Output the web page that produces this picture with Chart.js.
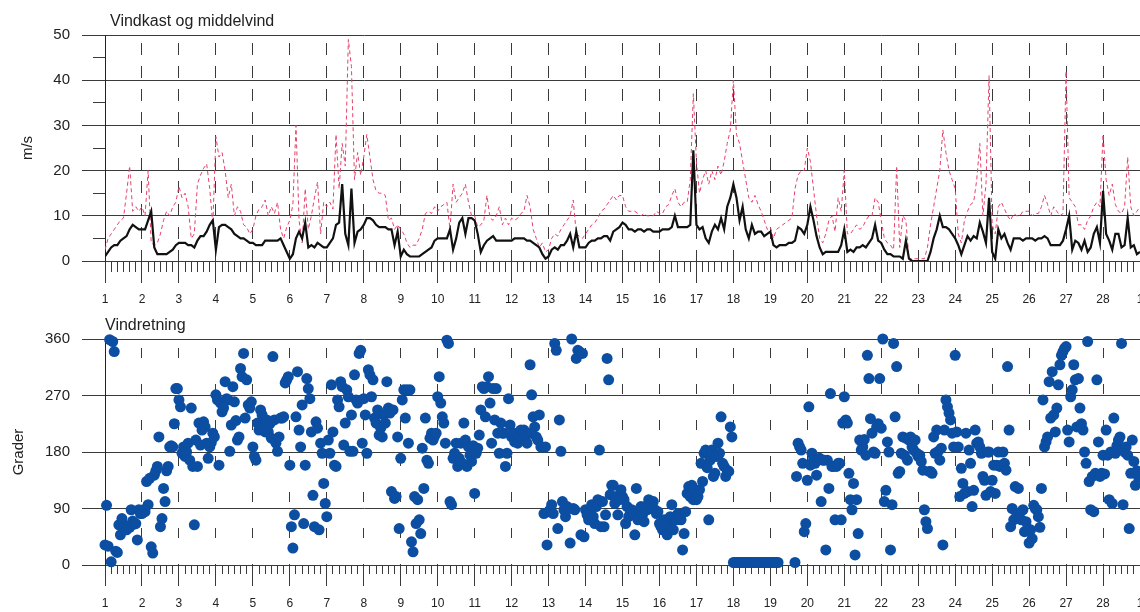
<!DOCTYPE html>
<html>
<head>
<meta charset="utf-8">
<script src="https://cdn.jsdelivr.net/npm/chart.js@4.4.1/dist/chart.umd.min.js"></script>
<style>
  html, body { margin: 0; padding: 0; background: #fff; overflow: hidden; }
  #wrap { position: relative; width: 1140px; height: 612px; overflow: hidden; }
  canvas { position: absolute; left: 0; }
  #cWind { top: 0; }
  #cDir { top: 310px; }
  .ttl { position: absolute; font-family: "Liberation Sans", Arial, sans-serif; font-size: 16px; line-height: 18px; color: #222; white-space: nowrap; }
</style>
</head>
<body>
<div id="wrap">
  <canvas id="cWind" width="1180" height="310"></canvas>
  <canvas id="cDir" width="1180" height="302"></canvas>
  <div class="ttl" style="left:110px; top:12px;">Vindkast og middelvind</div>
  <div class="ttl" style="left:105px; top:316px;">Vindretning</div>
</div>
<script>
// mean wind, m/s, one value every 2 hours (12 per day), day 1 .. 28 + 00 on the 1st
var meanWind = [
  1, 2, 3, 3.5, 3.5, 4.5, 5, 5.5, 7, 8, 7.5, 7,
  7, 7, 9, 11, 3, 1.5, 1.5, 1.5, 1.5, 2, 2.5, 3.5,
  4, 4, 4, 3.5, 3.5, 3, 4.5, 5.5, 5.5, 6.5, 8, 9,
  2.5, 7.5, 8, 8, 7.5, 7, 6, 5.5, 5, 5, 4.5, 4,
  4, 3.5, 3.5, 3.5, 4.5, 4.5, 4.5, 4.5, 4.5, 5, 3.5, 2,
  0.5, 1.5, 5, 6.5, 5, 8.5, 3, 3.5, 3, 4, 3.5, 3,
  3, 4, 5, 8, 8.5, 17, 6, 3.5, 16, 4, 6.5, 7,
  8, 9.5, 9.5, 9, 8, 7.5, 7.5, 7.5, 7, 7, 3.5, 6.5,
  1, 2.5, 1.5, 1, 1, 1, 1, 1.5, 2, 2.5, 3, 4.5,
  5, 5, 5, 5, 7, 2.5, 5, 8.5, 9.5, 6, 9.5, 9.5,
  9, 6, 2, 3.5, 4.5, 5, 5.5, 4.5, 4.5, 4.5, 4.5, 4.5,
  4.5, 5, 5, 5, 5, 4.5, 4.5, 4, 3.5, 3, 1.5, 0.5,
  1, 2.5, 3, 2.5, 3.5, 3.5, 4.5, 6, 3, 6.5, 3, 3,
  3, 4, 4.5, 4.5, 5, 5, 5.5, 5.5, 4.5, 6.5, 7, 7.5,
  8.5, 8, 7, 7, 6.5, 7, 7, 6.5, 7, 7, 6.5, 6.5,
  6.5, 7, 7, 7, 7.5, 10, 7.5, 7.5, 7.5, 7.5, 8, 24.5,
  8, 7, 7.5, 5, 4, 6.5, 8, 7, 9.5, 7, 12, 14,
  17, 14, 9, 12, 7, 5, 8, 6, 6.5, 6.5, 5.5, 6,
  6.5, 3.5, 3, 3.5, 3.5, 3.5, 4, 4, 4.5, 7.5, 7, 6,
  8, 12, 9, 5.5, 3, 1.5, 2, 2, 2, 2, 2, 3.5,
  7, 2, 2.5, 2, 3, 3, 3.5, 3, 4, 5, 8, 4.5,
  4, 2.5, 1.5, 1.5, 1, 1, 1, 0.5, 4.5, 0.5, 0, 0,
  0, 0, 0, 0, 2, 5, 7, 10, 7.5, 7.5, 7, 6,
  5, 3.5, 1.5, 3.5, 5.5, 4.5, 5.5, 5, 8.5, 6.5, 4, 14,
  2, 0.5, 7, 5, 6, 4, 2.5, 5, 5, 5, 4.5, 5,
  5, 5, 4.5, 5, 5, 5.5, 5, 3.5, 3.5, 3.5, 3.5, 4.5,
  7, 10, 2.5, 4.5, 4, 2.5, 4.5, 2, 3, 6, 7.5, 4,
  15.5, 6, 4.5, 2.5, 6, 6, 3, 3.5, 9.5, 3, 3.5, 1.5,
  2
];

// gusts, m/s, same 2-hour steps
var gust = [
  2.5, 5, 6, 7, 8, 9, 9.5, 15, 21, 11, 12, 11,
  12, 10, 20, 4, 3.5, 4, 6, 9, 11, 10, 12, 13,
  16.5, 14, 15, 12, 5, 6, 17, 19, 20.5, 21.5, 16, 8,
  27.5, 23, 24, 20, 14, 17, 10, 12, 11, 8, 7.5, 6,
  7, 10, 11.5, 12, 13.5, 10, 12, 10.5, 13, 7, 5, 7.5,
  9, 12.5, 30, 9, 4, 16, 7, 10, 14, 17.5, 6, 13,
  12, 13, 11.5, 28, 16, 26, 21, 49, 43, 18, 24, 19,
  23, 28, 23, 18, 15.5, 15, 15, 14.5, 9, 9.5, 7, 8,
  7, 6, 4, 3, 3.5, 3.5, 5, 7, 10.5, 11, 10.5, 12,
  11, 12, 12.5, 13, 7, 17, 13, 14, 15, 17, 13, 10,
  10, 7.5, 8, 9, 14.5, 9.5, 9, 10, 12, 8, 9.5, 8,
  9.5, 9, 9.5, 10.5, 11, 14.5, 12, 7, 5, 3, 4, 2,
  2.5, 5, 6, 5.5, 7, 8, 9, 10, 13.5, 6, 5.5, 5,
  6, 7, 8, 8.5, 9.5, 11, 11.5, 12.5, 13.5, 14.5, 13.5, 14.5,
  14.5, 12, 11, 11, 11, 10.5, 10, 10.5, 10, 10, 10, 11,
  10.5, 10.5, 12, 12.5, 14.5, 16, 13, 12, 13, 13, 18, 37,
  22, 15, 18, 20, 17, 20, 18, 21, 19, 22, 26, 29,
  40, 28, 26, 22, 18, 14, 13, 14.5, 12.5, 11, 9, 7,
  7.5, 5, 7, 7.5, 8, 8.5, 9, 9.5, 16, 19, 20, 20,
  25, 22, 16, 10, 5, 4, 6, 9, 10, 6.5, 14, 11,
  20, 6, 6, 7, 8, 7, 7.5, 9, 10, 10, 14, 13,
  9, 5, 4, 3.5, 2.5, 21, 3, 10, 9, 0.5, 0.5, 0.5,
  0.5, 0.5, 0.5, 3, 8, 12, 16, 20, 29, 24, 20, 18,
  16, 6, 4, 9, 11, 12.5, 13, 18, 26, 10, 17, 41,
  8, 6, 12, 13, 11.5, 10, 9, 10.5, 10, 10, 11, 11,
  11, 10, 10.5, 10.5, 12, 14.5, 12.5, 10, 12, 11, 10, 10.5,
  42, 14, 13, 12, 8, 8, 7, 9, 10, 12, 13, 12,
  28, 18, 14.5, 17, 12.5, 11, 10.5, 12, 23, 12, 10, 11,
  12
];

// wind direction, degrees, hourly (24 per day); null = no reading
var direction = [
  32, 95, 30, 359, 5, 356, 340, 22, 20, 64, 48, 74, 60, 62, 56, 62, 60, 88, 70, 65, 66, 40, 88, 82,
  82, 88, 85, 133, 96, 138, 29, 19, 143, 150, 157, 204, 61, 74, 122, 101, 150, 157, 188, 190, 188, 225, 281, 281,
  263, 252, 178, 188, 173, 180, 194, 167, 250, 157, 64, 199, 157, 226, 191, 215, 228, 220, 194, 170, 188, 195, 210, 204,
  271, 263, 159, 258, 244, 250, 292, 265, 263, 181, 223, 284, 260, 230, 199, 204, 313, 300, 337, 234, 295, 255, 250, 260,
  188, 173, 167, 226, 215, 247, 239, 220, 212, 231, 212, 225, 202, 332, 231, 194, 181, 204, 234, 234, 236, 290, 295, 300,
  159, 61, 27, 80, 236, 308, 215, 188, 255, 66, 159, 297, 281, 265, 212, 111, 61, 228, 218, 56, 194, 178, 130, 98,
  77, 199, 178, 287, 212, 159, 157, 263, 252, 292, 284, 191, 226, 279, 268, 181, 239, 181, 303, 263, 258, 337, 342, 194,
  265, 239, 178, 311, 303, 268, 295, 234, 226, 247, 207, 218, 204, 239, 226, 292, 250, 242, 117, 247, 106, 109, 204, 58,
  170, 263, 279, 234, 279, 194, 279, 37, 21, 109, 66, 104, 72, 50, 186, 122, 234, 167, 162, 202, 210, 199, 205, 210,
  268, 300, 258, 236, 226, 194, 358, 353, 101, 96, 170, 178, 194, 157, 170, 194, 162, 226, 199, 157, 188, 175, 165, 190,
  114, 178, 186, 207, 247, 284, 281, 236, 284, 300, 258, 194, 281, 231, 281, 210, 178, 226, 210, 210, 157, 178, 265, 223,
  204, 210, 196, 210, 194, 207, 215, 199, 215, 204, 194, 210, 319, 271, 236, 220, 204, 199, 239, 188, 188, 82, 188, 32,
  85, 88, 96, 82, 353, 342, 58, 231, 181, 101, 88, 77, 93, 90, 35, 360, 90, 88, 329, 342, 340, 48, 337, 45,
  88, 80, 72, 82, 96, 77, 66, 93, 104, 183, 61, 101, 61, 80, 329, 295, 112, 127, 127, 98, 109, 80, 104, 120,
  109, 104, 66, 93, 77, 82, 88, 82, 48, 122, 72, 85, 93, 80, 69, 93, 88, 104, 96, 90, 101, 88, 82, 85,
  66, 61, 56, 72, 56, 48, 61, 77, 96, 56, 74, 72, 82, 80, 72, 24, 50, 85, 114, 125, 109, 127, 104, 120,
  104, 109, 120, 162, 133, 178, 183, 155, 72, 167, 183, 141, 146, 173, 194, 178, 236, 162, 157, 141, 151, 149, 220, 204,
  4, 4, 4, 4, 4, 4, 4, 4, 4, 4, 4, 4, 4, 4, 4, 4, 4, 4, 4, 4, 4, 4, 4, 4,
  4, 4, 4, 4, 4, 4, null, null, null, null, null, null, null, null, null, null, 4, 141, 194, 188, 183, 162, 53, 66,
  135, 252, 159, 178, 167, 162, 143, 167, 170, 101, 167, 167, 24, 167, 122, 273, 157, 157, 72, 157, 162, 162, 72, 226,
  268, 231, 226, 146, 104, 88, 130, 16, 104, 50, 199, 183, 188, 200, 175, 334, 297, 233, 210, 180, 178, 220, 225, 297,
  218, 360, 101, 119, 196, 180, 24, 96, 353, 236, 316, 146, 149, 178, 204, 175, 202, 167, 199, 204, 188, 183, 199, 178,
  173, 175, 165, 151, 88, 69, 58, 149, 149, 146, 204, 178, 215, 181, 167, 186, 32, 215, 263, 252, 242, 231, 210, 188,
  334, 212, 188, 109, 154, 130, 114, 210, 117, 183, 162, 93, 119, 215, 194, 196, 188, 178, 141, 135, 111, 180, 180, 117,
  135, 159, 114, 159, 180, 157, 159, 180, 162, 151, 316, 215, 61, 90, 72, 125, 82, 122, 74, 72, 88, 53, 69, 58,
  35, 56, 42, 95, 90, 88, 77, 60, 122, 263, 188, 196, 204, 292, 234, 308, 239, 212, 250, 287, 319, 334, 340, 345,
  348, 215, 196, 268, 279, 319, 295, 220, 297, 250, 225, 215, 180, 162, 356, 133, 88, 141, 85, 146, 295, 196, 141, 146,
  175, 145, 215, 175, 104, 180, 98, 234, 178, 190, 199, 204, 353, 96, 180, 188, 175, 58, 146, 199, 165, 127, 150, 140
];

var windTicks = [0, 10, 20, 30, 40, 50];
var dirTicks = [0, 90, 180, 270, 360];
var HOURS = 672;       // 28 days
var GRID = '#3a3a3a';

Chart.defaults.font.family = '"Liberation Sans", Arial, sans-serif';
Chart.defaults.color = '#222';

function dayLabel(v) {
  var d = v / 24 + 1;
  return d > 28 ? d - 28 : d;
}

function toPoints(arr, step) {
  return arr.map(function(v, i) { return { x: i * step, y: v }; });
}

function timeAxes(majorLen, minorLen, height, dash, dashOffset, labelPad) {
  return {
    x: {
      type: 'linear', position: 'bottom', weight: 1, min: 0, max: HOURS,
      afterFit: function(s) { s.height = height; },
      ticks: { stepSize: 24, autoSkip: false, maxRotation: 0, padding: labelPad,
               font: { size: 12 }, callback: dayLabel },
      grid: { color: GRID, tickLength: majorLen },
      border: { color: GRID, dash: dash, dashOffset: dashOffset }
    },
    xMinor: {
      type: 'linear', position: 'bottom', weight: 0, min: 0, max: HOURS,
      afterFit: function(s) { s.height = 0; },
      ticks: { display: false, stepSize: 4, autoSkip: false },
      grid: { color: GRID, drawOnChartArea: false, tickLength: minorLen },
      border: { display: false }
    }
  };
}

function valueAxis(ticks, title, titlePad, minorStep) {
  var axes = {
    y: {
      position: 'left', weight: 1, min: ticks[0], max: ticks[ticks.length - 1],
      afterFit: function(s) { s.width = 105; },
      afterBuildTicks: function(s) { s.ticks = ticks.map(function(v) { return { value: v }; }); },
      ticks: { padding: 12, font: { size: 15 } },
      grid: { color: GRID, tickLength: 23 },
      border: { color: '#222' },
      title: { display: true, text: title, font: { size: 15 }, padding: { top: titlePad, bottom: 0 } }
    }
  };
  if (minorStep) {
    axes.yMinor = {
      position: 'left', weight: 0, min: ticks[0], max: ticks[ticks.length - 1],
      afterFit: function(s) { s.width = 0; },
      ticks: { display: false, stepSize: minorStep },
      grid: { color: GRID, drawOnChartArea: false, tickLength: 12 },
      border: { display: false }
    };
  }
  return axes;
}

var windScales = Object.assign(timeAxes(22, 11, 49, [12, 11], 15, 9),
                               valueAxis(windTicks, 'm/s', 19, 5));

new Chart(document.getElementById('cWind'), {
  type: 'line',
  data: {
    datasets: [
      { label: 'Middelvind', data: toPoints(meanWind, 2), xAxisID: 'x', yAxisID: 'y',
        borderColor: '#111', borderWidth: 2.2, pointRadius: 0, tension: 0 },
      { label: 'Vindkast', data: toPoints(gust, 2), xAxisID: 'x', yAxisID: 'y',
        borderColor: '#e5416b', borderWidth: 1, borderDash: [4, 3], pointRadius: 0, tension: 0 }
    ]
  },
  options: {
    responsive: false, animation: false, events: [],
    layout: { padding: { top: 35, right: 40, bottom: 0, left: 0 } },
    plugins: { legend: { display: false }, tooltip: { enabled: false } },
    scales: windScales
  }
});

var dirScales = Object.assign(timeAxes(21, 9, 47, [10, 26], 27, 10),
                              valueAxis(dirTicks, 'Grader', 10, 0));

new Chart(document.getElementById('cDir'), {
  type: 'scatter',
  data: {
    datasets: [
      { label: 'Vindretning', data: toPoints(direction, 1), xAxisID: 'x', yAxisID: 'y',
        backgroundColor: '#0b4ea2', borderWidth: 0, pointRadius: 5.5, pointHoverRadius: 5.5, clip: 10 }
    ]
  },
  options: {
    responsive: false, animation: false, events: [],
    layout: { padding: { top: 29, right: 40, bottom: 0, left: 0 } },
    plugins: { legend: { display: false }, tooltip: { enabled: false } },
    scales: dirScales
  }
});
</script>
</body>
</html>
